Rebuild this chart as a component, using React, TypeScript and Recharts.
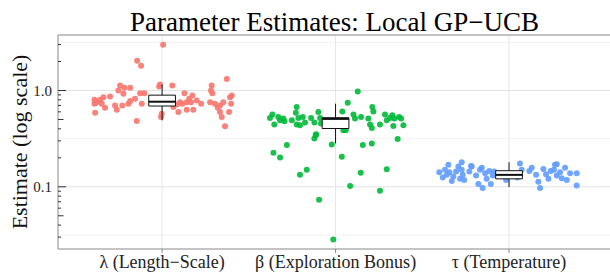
import React from 'react';
import { ScatterChart, Scatter, XAxis, YAxis, ReferenceLine, ReferenceArea } from 'recharts';

const categories = ['λ (Length−Scale)', 'β (Exploration Bonus)', 'τ (Temperature)'];
const colors = ['#F8766D', '#00BA38', '#619CFF'];

// horizontal jitter (category units) and estimate for each subject
const lambdaJitter = [-0.39, -0.39, -0.376, -0.386, -0.357, -0.348, -0.338, -0.329, -0.3, -0.271, -0.261, -0.252, -0.242, -0.223, -0.217, -0.229, -0.194, -0.184, -0.184, -0.156, -0.146, -0.127, -0.117, -0.102, -0.017, -0.012, -0.002, -0.006, 0.059, 0.065, 0.085, 0.104, 0.129, 0.117, 0.094, 0.142, 0.156, 0.175, 0.167, 0.142, 0.18, 0.2, 0.225, 0.277, 0.282, 0.286, 0.29, 0.305, 0.321, 0.334, 0.334, 0.344, 0.353, 0.363, 0.373, 0.386, 0.392, 0.402, 0.398, 0.006, -0.144, -0.121];
const lambdaValues = [0.8, 0.73, 0.757, 0.589, 0.8, 0.73, 0.853, 0.663, 0.867, 0.7, 0.632, 1.0, 1.126, 0.925, 1.066, 0.7, 0.73, 1.066, 0.776, 0.82, 0.483, 0.938, 0.73, 0.938, 1.1, 1.153, 0.575, 0.531, 1.126, 0.673, 0.717, 0.757, 0.938, 0.73, 0.597, 0.757, 0.82, 0.888, 0.757, 0.632, 0.632, 0.789, 0.73, 0.757, 1.0, 1.126, 0.938, 0.73, 0.663, 0.7, 0.597, 0.531, 0.757, 0.426, 1.32, 0.597, 0.853, 0.888, 0.73, 2.98, 2.04, 1.81];

const betaJitter = [-0.378, -0.364, -0.353, -0.33, -0.32, -0.301, -0.295, -0.252, -0.224, -0.229, -0.214, -0.224, -0.205, -0.189, -0.176, -0.141, -0.122, -0.099, -0.089, -0.084, -0.114, -0.122, 0.039, 0.07, 0.128, 0.045, 0.059, 0.103, 0.112, 0.147, 0.189, 0.199, 0.209, 0.212, 0.218, 0.256, 0.285, 0.295, 0.314, 0.327, 0.339, 0.333, 0.366, 0.378, 0.391, 0.358, -0.358, -0.32, -0.281, -0.205, -0.166, -0.112, -0.095, -0.022, -0.013, 0.036, 0.084, 0.145, 0.157, 0.209, 0.256, 0.295];
const betaValues = [0.518, 0.562, 0.443, 0.531, 0.491, 0.511, 0.479, 0.491, 0.673, 0.589, 0.518, 0.443, 0.436, 0.531, 0.465, 0.518, 0.465, 0.597, 0.518, 0.454, 0.344, 0.318, 0.607, 0.747, 0.977, 0.387, 0.387, 0.562, 0.511, 0.531, 0.511, 0.443, 0.409, 0.673, 0.607, 0.443, 0.562, 0.491, 0.518, 0.552, 0.511, 0.428, 0.531, 0.511, 0.436, 0.313, 0.226, 0.202, 0.271, 0.133, 0.15, 0.352, 0.0735, 0.275, 0.0284, 0.205, 0.102, 0.14, 0.271, 0.282, 0.091, 0.152];

const tauJitter = [-0.402, -0.382, -0.369, -0.359, -0.344, -0.33, -0.321, -0.305, -0.292, -0.282, -0.273, -0.267, -0.273, -0.259, -0.229, -0.215, -0.19, -0.177, -0.167, -0.157, -0.152, -0.138, -0.129, -0.114, -0.105, -0.094, -0.086, -0.017, 0.048, 0.063, 0.073, 0.117, 0.131, 0.156, 0.169, 0.179, 0.198, 0.213, 0.227, 0.24, 0.259, 0.265, 0.275, 0.294, 0.304, 0.323, 0.333, 0.352, 0.39, 0.39, -0.35, -0.219, 0.275];
const tauValues = [0.142, 0.125, 0.15, 0.133, 0.142, 0.115, 0.128, 0.144, 0.162, 0.121, 0.18, 0.133, 0.15, 0.118, 0.144, 0.162, 0.131, 0.107, 0.15, 0.158, 0.097, 0.138, 0.121, 0.146, 0.107, 0.131, 0.144, 0.118, 0.125, 0.175, 0.15, 0.146, 0.158, 0.133, 0.113, 0.097, 0.153, 0.135, 0.121, 0.146, 0.15, 0.169, 0.131, 0.142, 0.123, 0.158, 0.118, 0.138, 0.138, 0.103, 0.169, 0.164, 0.171];

// boxplot summaries per parameter
const boxLow = [0.49, 0.282, 0.0993];
const boxQ1 = [0.69, 0.403, 0.121];
const boxMedian = [0.765, 0.507, 0.133];
const boxQ3 = [0.895, 0.522, 0.147];
const boxHigh = [1.15, 0.729, 0.18];

const majorGrid = [0.1, 1];
const minorGrid = [0.0316, 0.316, 3.16];
const yTicks = [0.03, 0.04, 0.05, 0.06, 0.07, 0.08, 0.09, 0.1, 0.2, 0.3, 0.4, 0.5, 0.6, 0.7, 0.8, 0.9, 1, 2, 3];
const yDomain = [0.0226, 3.77];

const groups = [
  { jitter: lambdaJitter, values: lambdaValues },
  { jitter: betaJitter, values: betaValues },
  { jitter: tauJitter, values: tauValues },
];

const series = groups.map((g, i) =>
  g.values.map((v, k) => ({ x: i + 1 + g.jitter[k], y: v }))
);

const FONT = '"Liberation Serif", "Times New Roman", serif';
const HALF_BOX = 0.077;

const YTick = (props: any) => {
  const { x, y, payload } = props;
  const v = payload.value;
  const m = Math.round(v / Math.pow(10, Math.floor(Math.log10(v) + 1e-9)));
  const len = m === 1 ? 8 : m === 5 ? 5.5 : 3;
  return (
    <g>
      <line x1={x} x2={x + len} y1={y} y2={y} stroke="#333" strokeWidth={1} />
      {m === 1 && (
        <text x={x - 6} y={y} dy="0.355em" textAnchor="end" style={{ fontFamily: FONT, fontSize: 15 }} fill="#222">
          {v === 1 ? '1.0' : '0.1'}
        </text>
      )}
    </g>
  );
};

const XTick = (props: any) => {
  const { x, y, payload } = props;
  return (
    <text x={x} y={y} dy="0.71em" textAnchor="middle" style={{ fontFamily: FONT, fontSize: 18 }} fill="#222">
      {categories[Math.round(payload.value) - 1]}
    </text>
  );
};

const YLabel = (props: any) => {
  const vb = props.viewBox;
  const cy = vb.y + vb.height / 2;
  return (
    <text x={19} y={cy} transform={`rotate(-90, 19, ${cy})`} textAnchor="middle" dy="0.35em" style={{ fontFamily: FONT, fontSize: 22 }} fill="#111">
      Estimate (log scale)
    </text>
  );
};

const Dot = (color: string) => (props: any) => (
  <circle cx={props.cx} cy={props.cy} r={3} fill={color} fillOpacity={0.9} />
);

export default function App() {
  return (
    <div style={{ position: 'absolute', left: 0, top: 0, width: 610, height: 272, overflow: 'hidden', background: '#fff' }}>
      <div style={{ position: 'absolute', left: 0, width: 669, top: 9, textAlign: 'center', fontFamily: FONT, fontSize: 27, lineHeight: '27px', color: '#000' }}>
        Parameter Estimates: Local GP−UCB
      </div>
      <ScatterChart width={640} height={272} margin={{ top: 35, right: 0, bottom: 0, left: 0 }}>
        {majorGrid.map((g) => (
          <ReferenceLine key={'mg' + g} y={g} stroke="#e3e3e3" strokeWidth={1} zIndex={-50} />
        ))}
        {minorGrid.map((g) => (
          <ReferenceLine key={'ng' + g} y={g} stroke="#f3f3f3" strokeWidth={1} zIndex={-50} />
        ))}
        {categories.map((c, i) => (
          <ReferenceLine key={'vg' + c} x={i + 1} stroke="#e6e6e6" strokeWidth={1} zIndex={-50} />
        ))}
        <ReferenceLine y={yDomain[1]} stroke="#888" strokeWidth={1} ifOverflow="visible" />
        <XAxis
          type="number"
          dataKey="x"
          domain={[0.4, 3.755]}
          allowDataOverflow
          ticks={[1, 2, 3]}
          height={23}
          tickSize={4}
          tickMargin={2}
          tickLine={{ stroke: '#888' }}
          axisLine={{ stroke: '#888' }}
          tick={(p: any) => <XTick {...p} />}
          interval={0}
        />
        <YAxis
          type="number"
          dataKey="y"
          scale="log"
          domain={yDomain}
          allowDataOverflow
          ticks={yTicks}
          interval={0}
          width={58}
          tickSize={0}
          tickMargin={0}
          tickLine={false}
          axisLine={{ stroke: '#888' }}
          tick={(p: any) => <YTick {...p} />}
          label={<YLabel />}
        />
        {series.map((s, i) => (
          <Scatter key={categories[i]} data={s} isAnimationActive={false} shape={Dot(colors[i])} />
        ))}
        {categories.map((c, i) => (
          <ReferenceLine
            key={'wh' + c}
            segment={[{ x: i + 1, y: boxLow[i] }, { x: i + 1, y: boxHigh[i] }]}
            stroke="#111"
            strokeWidth={1}
            zIndex={700}
          />
        ))}
        {categories.map((c, i) => (
          <ReferenceArea
            key={'bx' + c}
            x1={i + 1 - HALF_BOX}
            x2={i + 1 + HALF_BOX}
            y1={boxQ1[i]}
            y2={boxQ3[i]}
            fill="#fff"
            fillOpacity={1}
            stroke="#111"
            strokeWidth={1}
            zIndex={710}
          />
        ))}
        {categories.map((c, i) => (
          <ReferenceLine
            key={'md' + c}
            segment={[{ x: i + 1 - HALF_BOX, y: boxMedian[i] }, { x: i + 1 + HALF_BOX, y: boxMedian[i] }]}
            stroke="#111"
            strokeWidth={2}
            zIndex={720}
          />
        ))}
      </ScatterChart>
    </div>
  );
}
